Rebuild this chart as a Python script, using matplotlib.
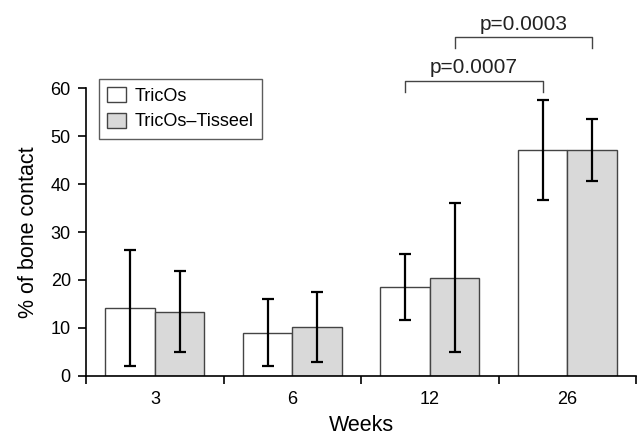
import matplotlib
matplotlib.use("Agg")
import matplotlib.pyplot as plt
import numpy as np

weeks = ["3", "6", "12", "26"]
tricos_mean = [14.2, 9.0, 18.6, 47.1]
tricos_sd = [12.1, 7.0, 6.9, 10.5]
tisseel_mean = [13.4, 10.2, 20.5, 47.1]
tisseel_sd = [8.4, 7.3, 15.5, 6.5]

brackets = [
    # (group_from, series_from, group_to, series_to, height, label)
    (2, 0, 3, 0, 61.5, "p=0.0007"),
    (2, 1, 3, 1, 70.6, "p=0.0003"),
]

plt.rcParams["font.family"] = ["Liberation Sans", "DejaVu Sans"]

fig = plt.figure(figsize=(6.38, 4.37), dpi=100)
ax = fig.add_axes([0.135, 0.140, 0.862, 0.658])

x = np.arange(len(weeks))
w = 0.36
offsets = [-w / 2, w / 2]
err_kw = dict(ecolor="black", elinewidth=1.6, capsize=4, capthick=1.6)
ax.bar(x + offsets[0], tricos_mean, w, yerr=tricos_sd, color="white",
       edgecolor="#444444", linewidth=1.0, error_kw=err_kw, label="TricOs")
ax.bar(x + offsets[1], tisseel_mean, w, yerr=tisseel_sd, color="#d9d9d9",
       edgecolor="#444444", linewidth=1.0, error_kw=err_kw, label="TricOs\u2013Tisseel")

for g0, s0, g1, s1, h, label in brackets:
    x0 = x[g0] + offsets[s0]
    x1 = x[g1] + offsets[s1]
    ax.plot([x0, x0, x1, x1], [h - 2.3, h, h, h - 2.3], color="#444444",
            linewidth=1.0, clip_on=False)
    ax.text((x0 + x1) / 2, h + 0.8, label, ha="center", va="bottom",
            fontsize=15, color="#222222")

ax.set_xlim(-0.5, 3.5)
ax.set_ylim(0, 60)
ax.set_yticks(range(0, 61, 10))
ax.set_xticks(np.arange(-0.5, 3.6, 1.0))
ax.set_xticklabels([])
ax.set_xticks(x, minor=True)
ax.set_xticklabels(weeks, minor=True)
ax.tick_params(axis="x", which="minor", length=0, pad=11, labelsize=13)
ax.tick_params(axis="x", which="major", length=6, width=1.2, direction="out")
ax.tick_params(axis="y", length=6, width=1.2, direction="out", labelsize=13, pad=5)
for side in ("top", "right"):
    ax.spines[side].set_visible(False)
for side in ("left", "bottom"):
    ax.spines[side].set_linewidth(1.2)

ax.set_xlabel("Weeks", fontsize=15.5, labelpad=5)
ax.set_ylabel("% of bone contact", fontsize=15.5, labelpad=8)

leg = ax.legend(loc="upper left", bbox_to_anchor=(0.024, 1.033), fontsize=13,
                frameon=True, fancybox=False, edgecolor="#333333",
                handlelength=1.0, handleheight=0.9, handletextpad=0.5,
                borderpad=0.45, labelspacing=0.45, borderaxespad=0)
leg.get_frame().set_linewidth(1.0)

fig.savefig("out.png", dpi=100)
